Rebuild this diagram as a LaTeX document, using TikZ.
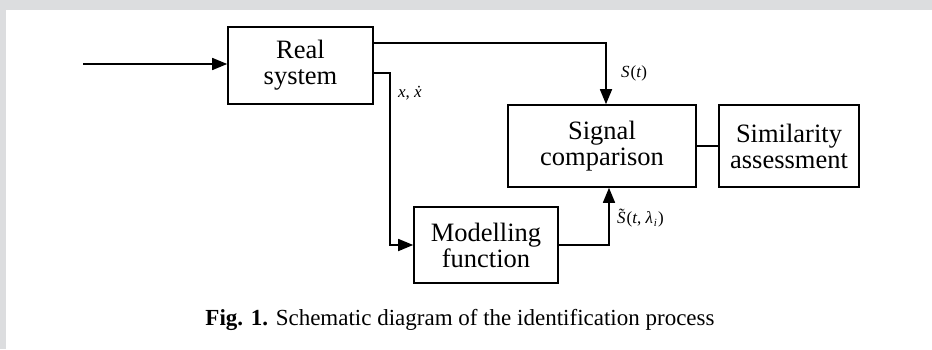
\documentclass[tikz,border=0pt]{standalone}
\usepackage{fontspec}
\setmainfont{Liberation Serif}
\usetikzlibrary{arrows.meta}
\definecolor{framegray}{HTML}{DCDDDF}
\tikzset{
  blk/.style={draw, line width=1.6pt, align=center, inner sep=0pt, font=\fontsize{26.5}{26}\selectfont},
  conn/.style={line width=1.6pt},
  arr/.style={conn, -{Triangle[length=15pt,width=12pt]}},
  lbl/.style={font=\fontsize{17}{19}\selectfont, inner sep=0pt}
}
\begin{document}
\begin{tikzpicture}[x=1pt,y=-1pt]
\useasboundingbox (0,0) rectangle (932,349);
\fill[framegray] (0,0) rectangle (932,10);
\fill[framegray] (0,0) rectangle (6,349);
\node[blk, minimum width=145pt, minimum height=77pt] (real) at (300.5,65.5) {Real\\system};
\node[blk, minimum width=188pt, minimum height=82pt] (sig) at (602,146) {Signal\\comparison};
\node[blk, minimum width=140pt, minimum height=82pt] (sim) at (789,146) {Similarity\\assessment};
\node[blk, minimum width=144pt, minimum height=76pt] (mod) at (486,245) {Modelling\\function};
\coordinate (in) at (83,64);
\draw[arr] (in) -- (real.west |- in);
\coordinate (o1) at (373,43);
\coordinate (o2) at (373,73);
\draw[arr] (o1) -- (606,43) -- (606,0 |- sig.north);
\draw[arr] (o2) -- (390,73) -- (390,245) -- (mod.west);
\draw[arr] (mod.east) -- (609,245) -- (609,0 |- sig.south);
\draw[conn] (sig.east) -- (sim.west);
\node[lbl, anchor=west] (ls) at (621,73) {\textit{S}\kern1pt(\textit{t})};
\node[lbl, anchor=west] (lx) at (398,93) {\textit{x}, \textit{\.{x}}};
\node[lbl, anchor=west] (lst) at (617,218) {\textit{S}\llap{\raisebox{0.45ex}{\textit{\char"02DC}}\kern1.2pt}\kern1pt(\textit{t}, \textit{λ}\kern1pt\raisebox{-0.35ex}{\fontsize{11}{13}\selectfont\textit{i}}\kern1pt)};
\node[font=\fontsize{23}{27}\selectfont, inner sep=0pt] (cap) at (460,320) {\textbf{Fig. 1.} Schematic diagram of the identification process};
\end{tikzpicture}
\end{document}
